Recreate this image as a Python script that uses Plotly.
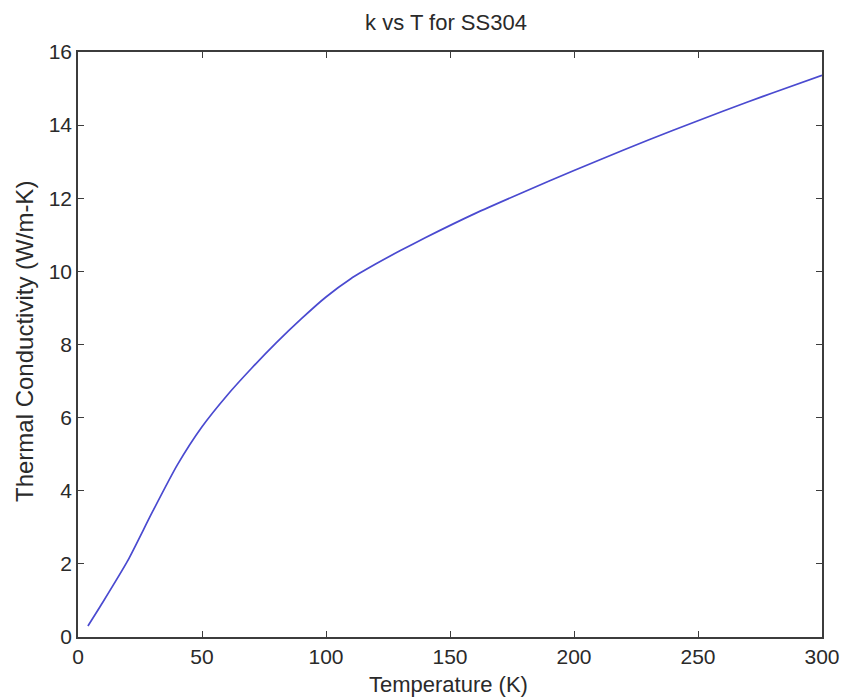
import plotly.graph_objects as go

# Thermal conductivity of SS304 versus temperature
temperature_K = [4, 10, 20, 30, 40, 50, 60, 70, 80, 90, 100, 110, 120, 130,
                 140, 160, 180, 200, 220, 240, 260, 280, 300]
conductivity_WmK = [0.3, 0.95, 2.08, 3.42, 4.7, 5.75, 6.6, 7.35, 8.05, 8.7,
                    9.3, 9.8, 10.2, 10.57, 10.92, 11.58, 12.18, 12.76, 13.32,
                    13.86, 14.38, 14.88, 15.36]

x_ticks = [0, 50, 100, 150, 200, 250, 300]
y_ticks = [0, 2, 4, 6, 8, 10, 12, 14, 16]

font_family = "Liberation Sans, Arial, sans-serif"
text_color = "#2a2a2a"
axis_color = "#3c3c3c"
tick_size = 21
label_size = 22

fig = go.Figure()
fig.add_trace(go.Scatter(
    x=temperature_K, y=conductivity_WmK, mode="lines",
    line=dict(color="#4a4ad0", width=1.7, shape="spline", smoothing=0.6),
    showlegend=False,
))

axis_common = dict(
    showgrid=False, zeroline=False, showline=True, mirror="ticks",
    automargin=False,
    linecolor=axis_color, linewidth=1.6,
    ticks="inside", ticklen=6, tickwidth=1.2, tickcolor=axis_color,
    tickfont=dict(family=font_family, size=tick_size, color=text_color),
)

fig.update_layout(
    width=843, height=700,
    margin=dict(l=78, r=21, t=52, b=63, autoexpand=False),
    paper_bgcolor="white", plot_bgcolor="white",
    font=dict(family=font_family, color=text_color),
    title=dict(text="k vs T for SS304", x=446 / 843, xanchor="center",
               y=1 - 22 / 700, yanchor="middle",
               font=dict(family=font_family, size=label_size, color=text_color)),
    xaxis=dict(range=[0, 300], tickvals=x_ticks, **axis_common),
    yaxis=dict(range=[0, 16], tickvals=y_ticks, **axis_common),
    annotations=[
        dict(text="Temperature (K)", xref="paper", yref="paper",
             x=(448 - 78) / 744, y=-(684 - 637) / 585,
             xanchor="center", yanchor="middle", showarrow=False,
             font=dict(family=font_family, size=label_size, color=text_color)),
        dict(text="Thermal Conductivity (W/m-K)", xref="paper", yref="paper",
             x=-(78 - 24) / 744, y=(637 - 342) / 585, textangle=-90,
             xanchor="center", yanchor="middle", showarrow=False,
             font=dict(family=font_family, size=24, color=text_color)),
    ],
)

fig.write_html("out.html")
